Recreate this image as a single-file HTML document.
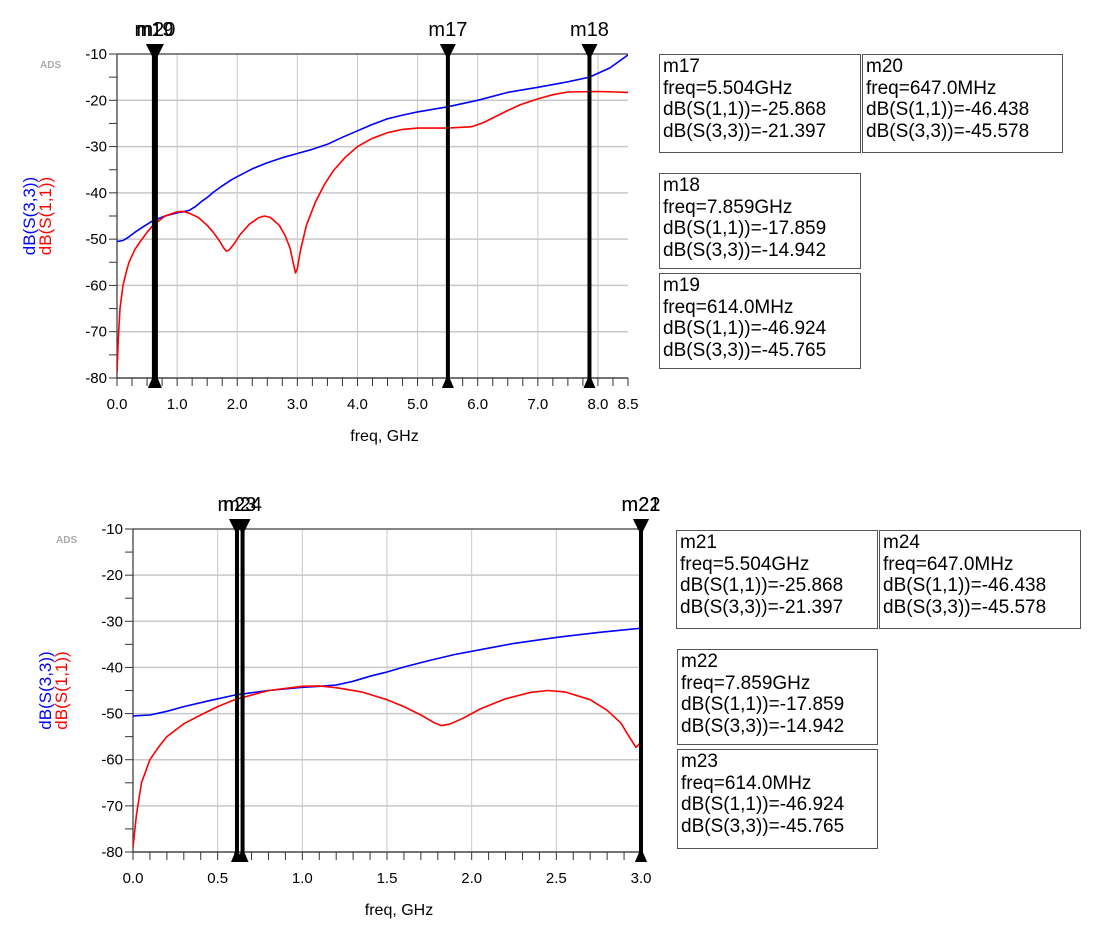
<!DOCTYPE html>
<html><head><meta charset="utf-8"><style>
body{margin:0;background:#fff;width:1108px;height:940px;overflow:hidden;font-family:"Liberation Sans",sans-serif}
.box{position:absolute;border:1.5px solid #555;background:#fff;font-size:19px;line-height:21.5px;padding:1px 2px 2px 3px;box-sizing:border-box;white-space:pre;color:#000}
</style></head><body>
<svg id="svg" width="1108" height="940" style="position:absolute;left:0;top:0"></svg>

<div class="box" style="left:659px;top:54px;width:202px;height:99px">m17
freq=5.504GHz
dB(S(1,1))=-25.868
dB(S(3,3))=-21.397</div>
<div class="box" style="left:862px;top:54px;width:201px;height:99px">m20
freq=647.0MHz
dB(S(1,1))=-46.438
dB(S(3,3))=-45.578</div>
<div class="box" style="left:659px;top:173px;width:202px;height:96px">m18
freq=7.859GHz
dB(S(1,1))=-17.859
dB(S(3,3))=-14.942</div>
<div class="box" style="left:659px;top:273px;width:202px;height:96px">m19
freq=614.0MHz
dB(S(1,1))=-46.924
dB(S(3,3))=-45.765</div>

<div class="box" style="left:676px;top:530px;width:202px;height:99px">m21
freq=5.504GHz
dB(S(1,1))=-25.868
dB(S(3,3))=-21.397</div>
<div class="box" style="left:879px;top:530px;width:202px;height:99px">m24
freq=647.0MHz
dB(S(1,1))=-46.438
dB(S(3,3))=-45.578</div>
<div class="box" style="left:677px;top:649px;width:201px;height:96px">m22
freq=7.859GHz
dB(S(1,1))=-17.859
dB(S(3,3))=-14.942</div>
<div class="box" style="left:677px;top:749px;width:201px;height:100px">m23
freq=614.0MHz
dB(S(1,1))=-46.924
dB(S(3,3))=-45.765</div>

<script>
const s33Freq=[0,0.1,0.2,0.3,0.45,0.6,0.8,1.0,1.1,1.2,1.3,1.4,1.5,1.6,1.75,1.9,2.0,2.25,2.5,2.75,3.0,3.25,3.5,3.75,4.0,4.25,4.5,4.75,5.0,5.5,6.0,6.5,7.0,7.5,7.86,8.2,8.5];
const s33Db=[-50.5,-50.3,-49.5,-48.5,-47.2,-46,-45,-44.3,-44.1,-43.8,-43,-41.9,-41,-39.9,-38.5,-37.2,-36.5,-34.8,-33.5,-32.4,-31.5,-30.6,-29.5,-28,-26.6,-25.2,-24,-23.2,-22.5,-21.4,-20,-18.3,-17.2,-16,-15,-13,-10.2];
const s11Freq=[0,0.02,0.05,0.1,0.15,0.2,0.3,0.4,0.5,0.6,0.8,1.0,1.1,1.2,1.35,1.5,1.6,1.7,1.78,1.82,1.87,1.95,2.05,2.2,2.35,2.45,2.55,2.7,2.8,2.88,2.93,2.97,3.0,3.05,3.15,3.3,3.45,3.6,3.8,4.0,4.25,4.5,4.75,5.0,5.5,5.9,6.1,6.3,6.5,6.7,7.0,7.25,7.5,8.0,8.3,8.5];
const s11Db=[-79,-72,-65,-60,-57.3,-55,-52.2,-50.3,-48.5,-47,-45,-44.1,-44,-44.4,-45.3,-47,-48.5,-50.3,-52,-52.6,-52.3,-51,-49,-46.8,-45.4,-45,-45.3,-47,-49.3,-52,-55,-57.3,-56.3,-52.5,-47,-42,-38.2,-35.2,-32.3,-30,-28.2,-27,-26.3,-26,-26,-25.7,-24.8,-23.5,-22.2,-21,-19.7,-18.8,-18.2,-18.1,-18.2,-18.3];
const yTicks=[-10,-20,-30,-40,-50,-60,-70,-80];
const xTicksTop=[0,1,2,3,4,5,6,7,8,8.5];
const xTicksBot=[0,0.5,1,1.5,2,2.5,3];
const markerNamesTop=['m19','m20','m17','m18'];
const markerFreqTop=[0.614,0.647,5.504,7.859];
const markerNamesBot=['m23','m24','m21','m22'];
const markerFreqBot=[0.614,0.647,5.504,7.859];

const svg=document.getElementById('svg');const NS='http://www.w3.org/2000/svg';
function el(t,a,p){const e=document.createElementNS(NS,t);for(const k in a)e.setAttribute(k,a[k]);(p||svg).appendChild(e);return e;}

function chart(cfg){
 const g=el('g',{});
 
 
 const X=f=>cfg.x0+(f-cfg.xmin)/(cfg.xmax-cfg.xmin)*(cfg.x1-cfg.x0);
 const Y=d=>cfg.y0+(-10-d)/70*(cfg.y1-cfg.y0);
 cfg.xgrid.forEach(f=>{const l=el('line',{x1:X(f),x2:X(f),y1:cfg.y0,y2:cfg.y1,stroke:'#c8c8c8','stroke-width':1},g);});
 yTicks.forEach(d=>{const l=el('line',{x1:cfg.x0,x2:cfg.x1,y1:Y(d),y2:Y(d),stroke:'#c8c8c8','stroke-width':1.5},g);});
 el('line',{x1:cfg.x0,x2:cfg.x1,y1:cfg.y0,y2:cfg.y0,stroke:'#666','stroke-width':1.5},g);
 el('line',{x1:cfg.x0,x2:cfg.x0,y1:cfg.y0,y2:cfg.y1,stroke:'#333','stroke-width':1.2},g);
 el('line',{x1:cfg.x0,x2:cfg.x1,y1:cfg.y1,y2:cfg.y1,stroke:'#333','stroke-width':1.2},g);
 yTicks.forEach(d=>{el('line',{x1:cfg.x0-8,x2:cfg.x0,y1:Y(d),y2:Y(d),stroke:'#333'},g);
  const mid=d-5; if(mid>=-80) el('line',{x1:cfg.x0-8,x2:cfg.x0,y1:Y(mid),y2:Y(mid),stroke:'#333'},g);
  const t=el('text',{x:cfg.x0-10,y:Y(d)+5,'text-anchor':'end','font-size':15},g);t.textContent=d;
  });
 for(let f=cfg.xmin;f<=cfg.xmax+1e-9;f+=cfg.minor){el('line',{x1:X(f),x2:X(f),y1:cfg.y1,y2:cfg.y1+8,stroke:'#333'},g);}
 cfg.xticks.forEach(f=>{const t=el('text',{x:X(f),y:cfg.y1+31,'text-anchor':'middle','font-size':15},g);t.textContent=f.toFixed(1);
  });
 const xt=el('text',{x:(cfg.x0+cfg.x1)/2+12,y:cfg.y1+63,'text-anchor':'middle','font-size':16},g);xt.textContent='freq, GHz';
 
 const ads=el('text',{x:cfg.x0-77,y:cfg.y0+14,'font-size':10,fill:'#aaa','font-weight':'bold'},g);ads.textContent='ADS';
 
 const cy=(cfg.y0+cfg.y1)/2;
 const ya=el('text',{transform:`translate(${cfg.x0-82},${cy}) rotate(-90)`,'text-anchor':'middle','font-size':17,fill:'#0000ff'},g);ya.textContent='dB(S(3,3))';
 
 const yb=el('text',{transform:`translate(${cfg.x0-66},${cy}) rotate(-90)`,'text-anchor':'middle','font-size':17,fill:'#ff0000'},g);yb.textContent='dB(S(1,1))';
 
 const cid='clip'+cfg.name;const cp=el('clipPath',{id:cid},g);el('rect',{x:cfg.x0,y:cfg.y0-2,width:cfg.x1-cfg.x0,height:cfg.y1-cfg.y0+4},cp);
 const pts=(fs,ds)=>fs.map((f,i)=>X(f).toFixed(1)+','+Y(ds[i]).toFixed(1)).join(' ');
 const pb=el('polyline',{points:pts(s33Freq,s33Db),fill:'none',stroke:'#0000ff','stroke-width':1.6,'clip-path':`url(#${cid})`,'stroke-linejoin':'round'},g);
 
 const pr=el('polyline',{points:pts(s11Freq,s11Db),fill:'none',stroke:'#ff0000','stroke-width':1.6,'clip-path':`url(#${cid})`,'stroke-linejoin':'round'},g);
 
 cfg.mf.forEach((f,i)=>{const xx=X(Math.min(f,cfg.xmax));const mg=el('g',{},g);
  
  el('line',{x1:xx,x2:xx,y1:cfg.y0,y2:cfg.y1+4,stroke:'#000','stroke-width':4},mg);
  el('polygon',{points:`${xx-8},${cfg.y0-10} ${xx+8},${cfg.y0-10} ${xx},${cfg.y0+6}`,fill:'#000'},mg);
  el('polygon',{points:`${xx-6},${cfg.y1+10} ${xx+6},${cfg.y1+10} ${xx},${cfg.y1-4}`,fill:'#000'},mg);
  const t=el('text',{x:xx,y:cfg.y0-18,'text-anchor':'middle','font-size':20},mg);t.textContent=cfg.mn[i];});
}
chart({name:'top-chart',x0:117,x1:628,y0:54,y1:378,xmin:0,xmax:8.5,xgrid:[1,2,3,4,5,6,7,8],xticks:xTicksTop,minor:0.25,mf:markerFreqTop,mn:markerNamesTop});
chart({name:'bottom-chart',x0:133,x1:641,y0:529,y1:852,xmin:0,xmax:3,xgrid:[0.5,1,1.5,2,2.5],xticks:xTicksBot,minor:0.1,mf:markerFreqBot,mn:markerNamesBot});
</script>
</body></html>
